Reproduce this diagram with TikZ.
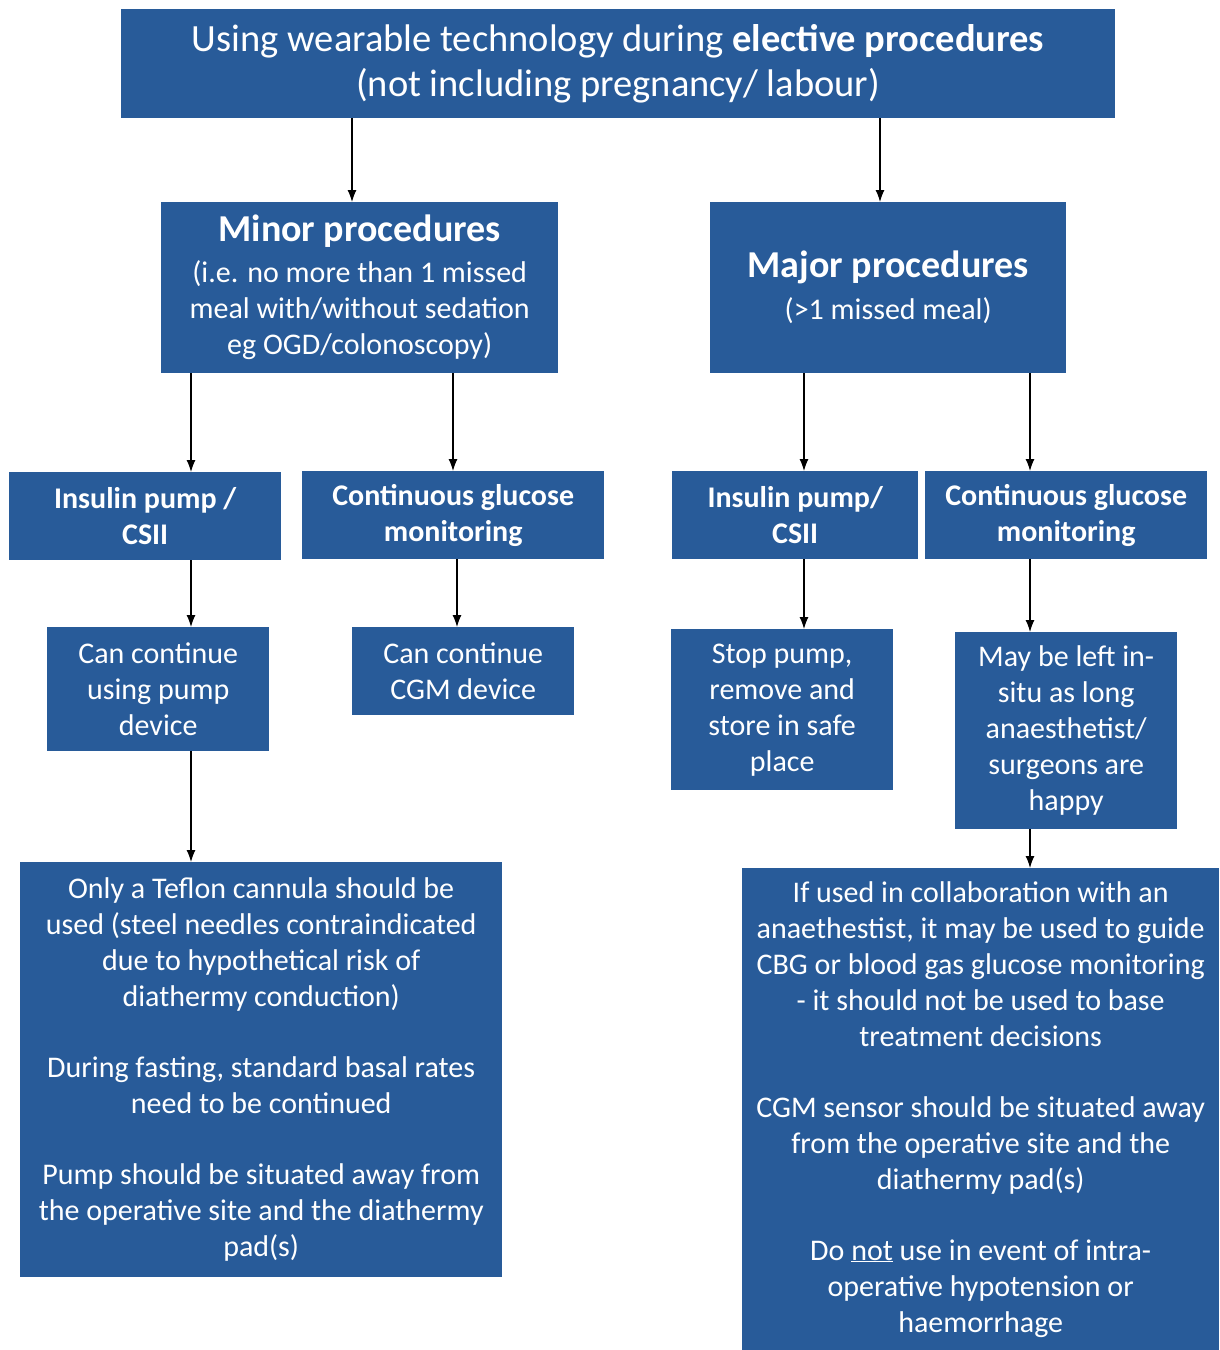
\documentclass[tikz,border=0pt]{standalone}
\usepackage{fontspec}
\setmainfont{Carlito}
\usetikzlibrary{arrows.meta, positioning}
\definecolor{boxblue}{RGB}{40,91,153}
\tikzstyle{block} = [fill=boxblue, text=white, rectangle, align=center, anchor=north west, inner sep=0pt, font=\fontsize{30}{36}\selectfont]
\tikzstyle{head} = [block, font=\fontsize{30}{36}\selectfont\bfseries]
\tikzstyle{arr} = [->, line width=1.2pt]

\begin{document}
\begin{tikzpicture}[x=1pt, y=-1pt, >={Latex[length=12pt,width=9pt]}]
  \useasboundingbox (0,0) rectangle (1219,1350);
  \node[block, minimum width=994pt, minimum height=109pt, font=\fontsize{38.5}{45}\selectfont] (top) at (121,9)
    {Using wearable technology during \textbf{elective procedures}\\(not including pregnancy/ labour)};
  % minor branch
  \node[block, minimum width=397pt, minimum height=171pt] (minor) at (161,202)
    {{\fontsize{38}{41}\selectfont\bfseries Minor procedures}\\[5pt]
     (i.e. no more than 1 missed\\meal with/without sedation\\eg OGD/colonoscopy)};
  \node[head, minimum width=272pt, minimum height=88pt] (insL) at (9,472) {Insulin pump /\\CSII};
  \node[head, minimum width=302pt, minimum height=88pt] (cgmL) at (302,471) {Continuous glucose\\monitoring};
  \node[block, minimum width=222pt, minimum height=124pt] (pumpL) at (47,627) {Can continue\\using pump\\device};
  \node[block, minimum width=222pt, minimum height=88pt] (cgmcontL) at (352,627) {Can continue\\CGM device};
  \node[block, minimum width=482pt, minimum height=415pt] (teflon) at (20,862)
    {Only a Teflon cannula should be\\used (steel needles contraindicated\\due to hypothetical risk of\\diathermy conduction)\\[35pt]
     During fasting, standard basal rates\\need to be continued\\[35pt]
     Pump should be situated away from\\the operative site and the diathermy\\pad(s)};
  % major branch
  \node[block, minimum width=356pt, minimum height=171pt] (major) at (710,202)
    {{\fontsize{38}{41}\selectfont\bfseries Major procedures}\\[6pt](>1 missed meal)};
  \node[head, minimum width=246pt, minimum height=88pt] (insR) at (672,471) {Insulin pump/\\CSII};
  \node[head, minimum width=282pt, minimum height=88pt] (cgmR) at (925,471) {Continuous glucose\\monitoring};
  \node[block, minimum width=222pt, minimum height=161pt] (stop) at (671,629) {Stop pump,\\remove and\\store in safe\\place};
  \node[block, minimum width=222pt, minimum height=197pt] (insitu) at (955,632)
    {May be left in-\\situ as long\\anaesthetist/\\surgeons are\\happy};
  \node[block, minimum width=477pt, minimum height=482pt] (collab) at (742,868)
    {If used in collaboration with an\\anaethestist, it may be used to guide\\CBG or blood gas glucose monitoring\\- it should not be used to base\\treatment decisions\\[35pt]
     CGM sensor should be situated away\\from the operative site and the\\diathermy pad(s)\\[35pt]
     Do \underline{not} use in event of intra-\\operative hypotension or\\haemorrhage};
  % connectors
  \draw[arr] ([xshift=231pt]top.south west) -- ([xshift=231pt]top.south west |- minor.north);
  \draw[arr] ([xshift=759pt]top.south west) -- ([xshift=759pt]top.south west |- major.north);
  \draw[arr] ([xshift=30pt]minor.south west) -- ([xshift=30pt]minor.south west |- insL.north);
  \draw[arr] ([xshift=292pt]minor.south west) -- ([xshift=292pt]minor.south west |- cgmL.north);
  \draw[arr] ([xshift=182pt]insL.south west) -- ([xshift=182pt]insL.south west |- pumpL.north);
  \draw[arr] ([xshift=155pt]cgmL.south west) -- ([xshift=155pt]cgmL.south west |- cgmcontL.north);
  \draw[arr] ([xshift=144pt]pumpL.south west) -- ([xshift=144pt]pumpL.south west |- teflon.north);
  \draw[arr] ([xshift=94pt]major.south west) -- ([xshift=94pt]major.south west |- insR.north);
  \draw[arr] ([xshift=320pt]major.south west) -- ([xshift=320pt]major.south west |- cgmR.north);
  \draw[arr] ([xshift=132pt]insR.south west) -- ([xshift=132pt]insR.south west |- stop.north);
  \draw[arr] ([xshift=105pt]cgmR.south west) -- ([xshift=105pt]cgmR.south west |- insitu.north);
  \draw[arr] ([xshift=75pt]insitu.south west) -- ([xshift=75pt]insitu.south west |- collab.north);
\end{tikzpicture}
\end{document}
